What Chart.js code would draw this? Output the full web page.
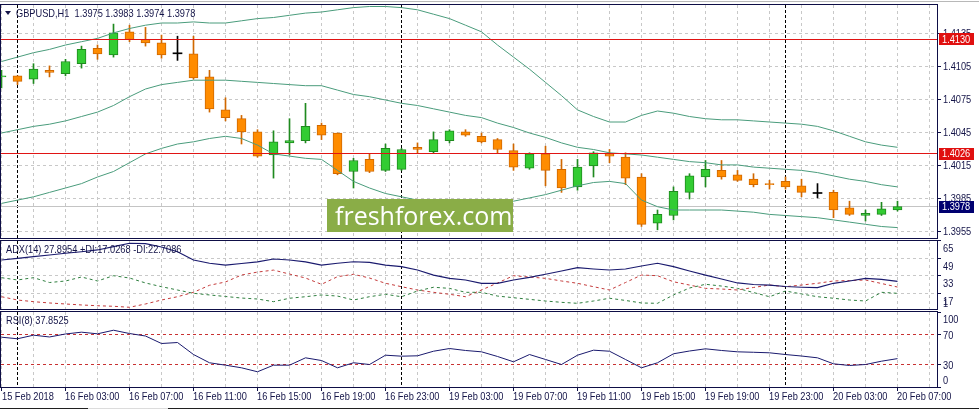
<!DOCTYPE html>
<html><head><meta charset="utf-8">
<script src="https://cdn.jsdelivr.net/npm/chart.js@4.4.1/dist/chart.umd.min.js"></script>
<style>
html,body{margin:0;padding:0;background:#fff;}
#wrap{position:relative;width:979px;height:411px;overflow:hidden;background:#fff;}
canvas{position:absolute;left:0;top:0;}
</style></head><body>
<div id="wrap">
<canvas id="cMain" width="979" height="411"></canvas>
<canvas id="cAdx" width="979" height="411"></canvas>
<canvas id="cRsi" width="979" height="411"></canvas>
</div>
<script>
// ---------------- DATA ----------------
const SYMBOL = "GBPUSD,H1";
const TIMES = [
 "15 Feb 23:00",
 "16 Feb 00:00","16 Feb 01:00","16 Feb 02:00","16 Feb 03:00","16 Feb 04:00","16 Feb 05:00","16 Feb 06:00","16 Feb 07:00",
 "16 Feb 08:00","16 Feb 09:00","16 Feb 10:00","16 Feb 11:00","16 Feb 12:00","16 Feb 13:00","16 Feb 14:00","16 Feb 15:00",
 "16 Feb 16:00","16 Feb 17:00","16 Feb 18:00","16 Feb 19:00","16 Feb 20:00","16 Feb 21:00","16 Feb 22:00","16 Feb 23:00",
 "19 Feb 00:00","19 Feb 01:00","19 Feb 02:00","19 Feb 03:00","19 Feb 04:00","19 Feb 05:00","19 Feb 06:00","19 Feb 07:00",
 "19 Feb 08:00","19 Feb 09:00","19 Feb 10:00","19 Feb 11:00","19 Feb 12:00","19 Feb 13:00","19 Feb 14:00","19 Feb 15:00",
 "19 Feb 16:00","19 Feb 17:00","19 Feb 18:00","19 Feb 19:00","19 Feb 20:00","19 Feb 21:00","19 Feb 22:00","19 Feb 23:00",
 "20 Feb 00:00","20 Feb 01:00","20 Feb 02:00","20 Feb 03:00","20 Feb 04:00","20 Feb 05:00","20 Feb 06:00","20 Feb 07:00"
];
const X_TICK_STEP = 4;
const X_TICK_LABELS = ["15 Feb 2018","16 Feb 03:00","16 Feb 07:00","16 Feb 11:00","16 Feb 15:00","16 Feb 19:00","16 Feb 23:00",
 "19 Feb 03:00","19 Feb 07:00","19 Feb 11:00","19 Feb 15:00","19 Feb 19:00","19 Feb 23:00","20 Feb 03:00","20 Feb 07:00"];

const OPEN = [1.4096,1.4097,1.4094,1.4102,1.4099,1.4108,1.4122,1.4116,1.4137,1.4130,
 1.4127,1.4117,1.4117,1.4096,1.4066,1.4058,1.4046,1.4025,1.4036,1.4038,
 1.4052,1.4045,1.4010,1.4021,1.4011,1.4012,1.4032,1.4028,1.4038,1.4046,
 1.4042,1.4039,1.4029,1.4013,1.4026,1.4012,1.3996,1.4015,1.4026,1.4023,
 1.4005,1.3963,1.3970,1.3991,1.4005,1.4011,1.4007,1.4003,1.3999,1.4001,
 1.3997,1.3990,1.3991,1.3977,1.3970,1.3971,1.3975];
const HIGH = [1.4102,1.4097,1.4108,1.4106,1.4112,1.4124,1.4125,1.4144,1.4143,1.4141,
 1.4134,1.4133,1.4133,1.4102,1.4077,1.4061,1.4048,1.4047,1.4058,1.4072,
 1.4054,1.4045,1.4022,1.4026,1.4035,1.4031,1.4036,1.4046,1.4048,1.4048,
 1.4045,1.4040,1.4035,1.4027,1.4033,1.4021,1.4021,1.4028,1.4030,1.4027,
 1.4008,1.3975,1.3996,1.4008,1.4020,1.4020,1.4011,1.4008,1.4002,1.4005,
 1.4003,1.3999,1.3993,1.3983,1.3975,1.3982,1.3983];
const LOW = [1.4086,1.4089,1.4090,1.4096,1.4097,1.4104,1.4112,1.4114,1.4128,1.4124,
 1.4113,1.4111,1.4094,1.4064,1.4056,1.4035,1.4023,1.4004,1.4025,1.4036,
 1.4039,1.4007,1.3995,1.4009,1.4010,1.4011,1.4027,1.4027,1.4036,1.4042,
 1.4036,1.4027,1.4011,1.4012,1.3997,1.3991,1.3993,1.4005,1.4018,1.3998,
 1.3960,1.3957,1.3966,1.3985,1.3996,1.4003,1.4001,1.3996,1.3994,1.3994,
 1.3987,1.3986,1.3968,1.3970,1.3965,1.3970,1.3974];
const CLOSE = [1.4097,1.4092,1.4103,1.4100,1.4110,1.4121,1.4117,1.4136,1.4130,1.4127,
 1.4116,1.4117,1.4095,1.4067,1.4059,1.4046,1.4024,1.4037,1.4038,1.4051,
 1.4043,1.4008,1.4020,1.4010,1.4031,1.4030,1.4030,1.4039,1.4047,1.4043,
 1.4037,1.4030,1.4014,1.4026,1.4011,1.3995,1.4014,1.4027,1.4024,1.4004,
 1.3962,1.3971,1.3992,1.4006,1.4012,1.4005,1.4002,1.3998,1.3998,1.3996,
 1.3991,1.3990,1.3975,1.3971,1.3972,1.3976,1.3978];

const BB_UPPER = [1.4110,1.4114,1.4118,1.4121,1.4125,1.4128,1.4131,1.4136,1.4140,1.4143,
 1.4145,1.4145,1.4146,1.4145,1.4145,1.4147,1.4149,1.4150,1.4152,1.4154,
 1.4155,1.4157,1.4159,1.4160,1.4160,1.4159,1.4157,1.4153,1.4149,1.4143,
 1.4137,1.4125,1.4114,1.4103,1.4091,1.4079,1.4066,1.4060,1.4055,1.4055,
 1.4061,1.4065,1.4063,1.4060,1.4058,1.4057,1.4057,1.4056,1.4055,1.4054,
 1.4053,1.4051,1.4047,1.4042,1.4037,1.4034,1.4032];
const BB_MIDDLE = [1.4045,1.4048,1.4051,1.4053,1.4056,1.4060,1.4064,1.4070,1.4078,1.4085,
 1.4089,1.4091,1.4093,1.4093,1.4093,1.4092,1.4091,1.4090,1.4089,1.4088,
 1.4088,1.4084,1.4080,1.4078,1.4075,1.4072,1.4070,1.4067,1.4064,1.4061,
 1.4059,1.4054,1.4050,1.4045,1.4041,1.4036,1.4032,1.4030,1.4027,1.4026,
 1.4025,1.4023,1.4021,1.4019,1.4018,1.4016,1.4016,1.4014,1.4013,1.4012,
 1.4011,1.4009,1.4006,1.4003,1.4001,1.3998,1.3996];
const BB_LOWER = [1.3981,1.3984,1.3987,1.3991,1.3995,1.3999,1.4005,1.4010,1.4018,1.4026,
 1.4031,1.4035,1.4037,1.4040,1.4042,1.4040,1.4034,1.4026,1.4024,1.4022,
 1.4021,1.4011,1.4001,1.3995,1.3990,1.3987,1.3984,1.3981,1.3980,1.3979,
 1.3979,1.3981,1.3983,1.3986,1.3989,1.3993,1.3997,1.4000,1.4001,1.3999,
 1.3984,1.3978,1.3975,1.3975,1.3975,1.3975,1.3974,1.3973,1.3971,1.3970,
 1.3969,1.3968,1.3966,1.3964,1.3962,1.3960,1.3959];

const PRICE_TICKS = [1.4135,1.4105,1.4075,1.4045,1.4015,1.3985,1.3955];
const PRICE_LEVELS = [1.4130,1.4026];

const ADX = [47.3,48.8,50.3,51.8,53.4,54.8,56.4,59.4,62.5,62.1,
 59.1,54.8,47.3,44.3,42.7,44.1,45.5,48.2,47.3,45.5,
 42.7,44.3,45.7,45.2,42.7,41.2,38.2,33.6,30.6,29.1,
 26.1,26.1,29.1,31.5,34.3,37.3,40.3,39.1,38.2,39.1,
 41.8,44.3,41.2,37.3,33.6,30.0,26.4,25.0,24.5,23.2,
 22.5,22.1,26.1,28.2,30.6,29.7,27.9];
const PLUS_DI = [31.2,29.1,31.2,26.8,28.2,31.8,28.2,33.0,30.9,26.4,
 23.0,20.0,17.0,15.5,14.1,12.7,11.8,9.4,12.5,13.9,
 15.5,14.5,10.9,13.9,16.1,13.9,19.1,22.5,21.5,17.9,
 17.9,14.5,13.0,11.5,10.0,8.8,7.9,10.0,12.5,10.5,
 8.2,7.9,15.5,21.8,25.2,23.6,21.5,17.7,13.9,19.1,
 16.4,13.9,12.5,10.9,10.0,17.9,17.0];
const MINUS_DI = [13.9,10.9,9.4,8.2,7.3,6.4,5.7,5.2,4.3,7.3,
 10.9,13.9,17.9,24.3,27.3,33.6,36.3,38.1,34.5,30.9,
 25.2,32.1,34.3,30.9,26.1,23.0,20.0,17.9,16.1,13.9,
 20.0,26.4,33.0,31.8,30.6,28.2,26.1,23.0,20.0,26.8,
 33.6,33.0,27.5,24.5,21.5,20.9,20.0,22.3,24.5,23.0,
 24.5,26.1,28.2,28.6,29.1,25.9,22.7];
const ADX_TICKS = [65,49,33,17,1];
const ADX_TITLE = "ADX(14) 27.8954 +DI:17.0268 -DI:22.7086";

const RSI = [66.4,64.3,69.1,66.7,70.7,73.1,70.9,75.7,71.3,68.0,
 58.0,59.3,43.3,32.3,29.1,25.6,20.3,29.1,29.1,38.9,
 35.3,25.6,32.3,30.0,42.4,41.1,41.6,47.7,51.3,48.7,
 46.9,40.7,33.6,43.3,36.7,30.0,42.4,49.1,47.7,36.7,
 25.6,32.3,44.3,48.0,50.9,48.7,46.9,46.3,45.6,43.3,
 41.3,38.9,30.9,28.7,30.0,34.4,37.85];
const RSI_LEVELS = [70,30];
const RSI_TICKS = [100,70,30,0];
const RSI_TITLE = "RSI(8) 37.8525";

// ---------------- STYLE ----------------
const FAMILY = '"Liberation Sans", Arial, sans-serif';
const FONT = '11px ' + FAMILY;
const NARROW = 0.84;           // horizontal squeeze to imitate the narrow terminal font
const TXT = '#141448';
const GRID_C = '#c8c8c8';
const FRAME = '#0e0e46';
const BULL_FILL = '#33cc33', BULL_EDGE = '#1f8a1f';
const BEAR_FILL = '#ff8c00', BEAR_EDGE = '#d06800';
const DOJI_C = '#000000';
const BAND_C = '#4a9c7c';
const LEVEL_C = '#e01414';
const NAVY = '#1a1a6e';

const N = TIMES.length;
const X_MIN = -0.03125, X_MAX = 58.46875;   // bar i centred on pixel 1.5 + 16 i
const GRID_STEP = 2;
const DAY_STARTS = TIMES.map((t,i)=> i>0 && t.slice(0,6)!==TIMES[i-1].slice(0,6) ? i : -1).filter(i=>i>=0);

function dir(i){ return CLOSE[i] > OPEN[i] ? 1 : (CLOSE[i] < OPEN[i] ? -1 : 0); }
function pts(arr){ return arr.map((v,i)=>({x:i, y:v})); }
function ntext(ctx, s, x, y){ ctx.save(); ctx.translate(x, y); ctx.scale(NARROW, 1); ctx.fillText(s, 0, 0); ctx.restore(); }

function baseX(){
  return {type:'linear', min:X_MIN, max:X_MAX, offset:false, display:false,
          grid:{display:false}, border:{display:false}, ticks:{display:false}};
}
function baseY(min,max){
  return {type:'linear', position:'right', min, max, display:true,
          grid:{display:false, drawTicks:false}, border:{display:false}, ticks:{display:false},
          afterFit(s){ s.width = 42; }};
}
function hline(ctx, a, y){ ctx.moveTo(a.left, y); ctx.lineTo(a.right, y); }
function drawLevels(ctx, a, ys, list){
  (list||[]).forEach(l=>{
    const y = Math.floor(ys.getPixelForValue(l.value));
    if (l.dash){
      ctx.strokeStyle = l.color; ctx.setLineDash(l.dash);
      ctx.beginPath(); hline(ctx, a, y + 0.5); ctx.stroke();
      ctx.setLineDash([]);
    } else {
      ctx.fillStyle = l.color;
      ctx.fillRect(a.left, y, a.right - a.left, 1);
    }
  });
}

function makePanel(cfg){
  return {
    id: 'panel_' + cfg.name,
    beforeDatasetsDraw(chart){
      const {ctx, chartArea:a} = chart; const xs = chart.scales.x, ys = chart.scales.y;
      ctx.save();
      ctx.beginPath(); ctx.rect(a.left, a.top, a.right-a.left, a.bottom-a.top); ctx.clip();
      ctx.lineWidth = 1;
      ctx.strokeStyle = GRID_C; ctx.setLineDash([3,3]);
      ctx.beginPath();
      for (let i = 0; i <= Math.floor(X_MAX); i += GRID_STEP){
        const x = Math.floor(xs.getPixelForValue(i)) + 0.5;
        ctx.moveTo(x, a.top); ctx.lineTo(x, a.bottom);
      }
      (cfg.gridValues||[]).forEach(v=>{
        const y = Math.floor(ys.getPixelForValue(v)) + 0.5;
        if (y > a.top + 1 && y < a.bottom - 1) hline(ctx, a, y);
      });
      ctx.stroke();
      ctx.strokeStyle = '#000'; ctx.setLineDash([3,2]);
      ctx.beginPath();
      DAY_STARTS.forEach(i=>{
        const x = Math.floor(xs.getPixelForValue(i)) + 0.5;
        ctx.moveTo(x, a.top); ctx.lineTo(x, a.bottom);
      });
      ctx.stroke();
      ctx.setLineDash([]);
      drawLevels(ctx, a, ys, cfg.backLevels);
      ctx.restore();
    },
    afterDatasetsDraw(chart){
      const {ctx, chartArea:a} = chart; const xs = chart.scales.x, ys = chart.scales.y;
      ctx.save();
      ctx.lineWidth = 1; ctx.setLineDash([]);
      drawLevels(ctx, a, ys, cfg.frontLevels);
      ctx.strokeStyle = FRAME;
      ctx.strokeRect(0.5, a.top - 0.5, a.right, a.bottom - a.top + 1);
      // axis ticks + labels
      ctx.font = FONT; ctx.textBaseline = 'middle'; ctx.textAlign = 'left';
      cfg.yTicks.forEach(v=>{
        const p = ys.getPixelForValue(v);
        if (p >= a.top - 0.6 && p <= a.bottom + 0.6){
          ctx.fillStyle = FRAME; ctx.fillRect(a.right, Math.floor(p), 4, 1);
        }
        const ty = Math.max(a.top + cfg.clampTop, Math.min(a.bottom - cfg.clampBot, p + cfg.labelOffset));
        ctx.fillStyle = TXT;
        ntext(ctx, cfg.fmt(v), a.right + 6, ty);
      });
      // price tags
      (cfg.tags||[]).forEach(t=>{
        const p = ys.getPixelForValue(t.value);
        ctx.fillStyle = t.bg; ctx.fillRect(a.right + 2, Math.round(p) - 6, 35, 12);
        ctx.fillStyle = '#ffffff'; ntext(ctx, t.value.toFixed(4), a.right + 5, p);
      });
      // title
      if (cfg.title){
        ctx.fillStyle = TXT;
        let tx = 6;
        if (cfg.triangle){
          ctx.beginPath(); ctx.moveTo(5, a.top + 6); ctx.lineTo(11, a.top + 6); ctx.lineTo(8, a.top + 10); ctx.closePath(); ctx.fill();
          tx = 16;
        }
        ntext(ctx, cfg.title, tx, a.top + 8.5);
      }
      // watermark
      if (cfg.watermark){
        ctx.fillStyle = '#8aad47'; ctx.fillRect(327, 199, 186, 33);
        ctx.fillStyle = '#ffffff'; ctx.font = '25px "Open Sans", "DejaVu Sans", sans-serif';
        ctx.textBaseline = 'alphabetic'; ctx.fillText('freshforex.com', 335, 224.5);
      }
      // x axis: tick marks + labels
      if (cfg.xTicks){
        ctx.fillStyle = FRAME;
        for (let k = 0; k < X_TICK_LABELS.length; k++){
          const x = Math.floor(xs.getPixelForValue(k * X_TICK_STEP));
          ctx.fillRect(x, a.bottom, 1, 4);
        }
        ctx.font = FONT; ctx.fillStyle = TXT; ctx.textBaseline = 'middle'; ctx.textAlign = 'left';
        X_TICK_LABELS.forEach((lab,k)=>{
          const x = Math.floor(xs.getPixelForValue(k * X_TICK_STEP));
          ntext(ctx, lab, Math.max(x, 2), a.bottom + 10);
        });
        // window frame lines
        ctx.fillStyle = '#b8b8b8'; ctx.fillRect(0, 1, 979, 1);
        ctx.fillStyle = '#202020'; ctx.fillRect(0, 408, 979, 1);
        ctx.fillStyle = '#dcdcdc'; ctx.fillRect(88, 408, 80, 1);
      }
      ctx.restore();
    }
  };
}

const common = {responsive:false, animation:false, devicePixelRatio:1, events:[],
  plugins:{legend:{display:false}, tooltip:{enabled:false}}};

// ---------------- MAIN PRICE PANEL ----------------
const LAST = N - 1;
new Chart(document.getElementById('cMain'), {
  type:'bar',
  data:{datasets:[
    {type:'line', label:'BB upper', data:pts(BB_UPPER), borderColor:BAND_C, borderWidth:1, pointRadius:0, tension:0, order:0},
    {type:'line', label:'BB middle', data:pts(BB_MIDDLE), borderColor:BAND_C, borderWidth:1, pointRadius:0, tension:0, order:0},
    {type:'line', label:'BB lower', data:pts(BB_LOWER), borderColor:BAND_C, borderWidth:1, pointRadius:0, tension:0, order:0},
    {type:'bar', label:'Body', data:OPEN.map((o,i)=>({x:i, y:[o, CLOSE[i]]})), barThickness:9, grouped:false,
      minBarLength:1, borderSkipped:false,
      borderWidth:c=> dir(c.dataIndex)===0 ? 0 : 1,
      backgroundColor:c=>{const d=dir(c.dataIndex); return d>0?BULL_FILL:(d<0?BEAR_FILL:DOJI_C);},
      borderColor:c=>{const d=dir(c.dataIndex); return d>0?BULL_EDGE:(d<0?BEAR_EDGE:DOJI_C);},
      order:1},
    {type:'bar', label:'Wick', data:LOW.map((l,i)=>({x:i, y:[l, HIGH[i]]})), barThickness:1, grouped:false, borderWidth:0,
      backgroundColor:c=>{const d=dir(c.dataIndex); return d>0?BULL_EDGE:(d<0?BEAR_EDGE:DOJI_C);},
      order:2}
  ]},
  options:Object.assign({}, common, {
    layout:{padding:{top:5, bottom:173, left:1, right:0}},
    scales:{x:baseX(), y:baseY(1.4075 - 138/11000, 1.4075 + 95/11000)}
  }),
  plugins:[makePanel({name:'main', gridValues:PRICE_TICKS, yTicks:PRICE_TICKS, fmt:v=>v.toFixed(4),
    labelOffset:0, clampTop:0, clampBot:0,
    backLevels:[{value:CLOSE[LAST], color:'#c4c4c4'}],
    frontLevels:PRICE_LEVELS.map(v=>({value:v, color:LEVEL_C})),
    tags:[...PRICE_LEVELS.map(v=>({value:v, bg:'#e01010'})), {value:CLOSE[LAST], bg:'#000070'}],
    title: SYMBOL + '  ' + [OPEN[LAST],HIGH[LAST],LOW[LAST],CLOSE[LAST]].map(v=>v.toFixed(4)).join(' '),
    triangle:true, watermark:true})]
});

// ---------------- ADX PANEL ----------------
new Chart(document.getElementById('cAdx'), {
  type:'line',
  data:{datasets:[
    {label:'ADX', data:pts(ADX), borderColor:NAVY, borderWidth:1.2, pointRadius:0, tension:0},
    {label:'+DI', data:pts(PLUS_DI), borderColor:'#2f7f3f', borderWidth:1, borderDash:[3,3], pointRadius:0, tension:0},
    {label:'-DI', data:pts(MINUS_DI), borderColor:'#c43a3a', borderWidth:1, borderDash:[3,3], pointRadius:0, tension:0}
  ]},
  options:Object.assign({}, common, {
    layout:{padding:{top:241, bottom:102, left:1, right:0}},
    scales:{x:baseX(), y:baseY(2.73, 64.55)}
  }),
  plugins:[makePanel({name:'adx', gridValues:ADX_TICKS, yTicks:ADX_TICKS, fmt:v=>String(v),
    labelOffset:8.5, clampTop:6, clampBot:5, title:ADX_TITLE})]
});

// ---------------- RSI PANEL ----------------
new Chart(document.getElementById('cRsi'), {
  type:'line',
  data:{datasets:[
    {label:'RSI', data:pts(RSI), borderColor:NAVY, borderWidth:1, pointRadius:0, tension:0}
  ]},
  options:Object.assign({}, common, {
    layout:{padding:{top:312, bottom:2, left:1, right:0}},
    scales:{
      x:{type:'linear', min:X_MIN, max:X_MAX, offset:false, position:'bottom', display:true,
         grid:{display:false, drawTicks:false}, border:{display:false}, ticks:{display:false},
         afterFit(s){ s.height = 22; }},
      y:baseY(0, 100)
    }
  }),
  plugins:[makePanel({name:'rsi', gridValues:[], yTicks:RSI_TICKS, fmt:v=>String(v),
    labelOffset:1.5, clampTop:7.5, clampBot:6.5, title:RSI_TITLE, xTicks:true,
    backLevels:RSI_LEVELS.map(v=>({value:v, color:'#c83232', dash:[3,3]}))})]
});
</script>
</body></html>
